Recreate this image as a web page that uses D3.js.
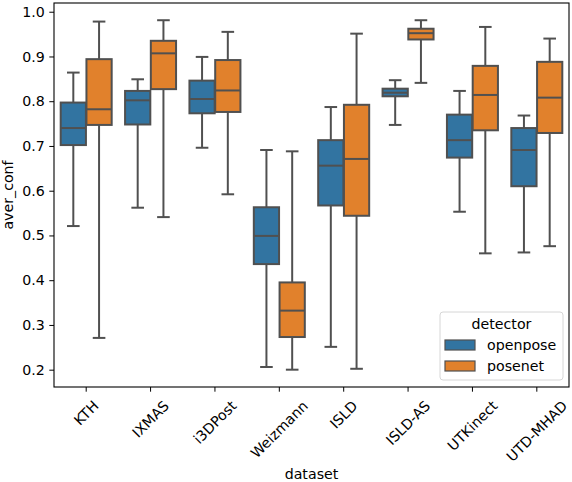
<!DOCTYPE html>
<html>
<head>
<meta charset="utf-8">
<script src="https://cdn.jsdelivr.net/npm/d3@7"></script>
<style>
  body { margin: 0; background: #fff; }
  svg text { font-family: "DejaVu Sans", sans-serif; fill: #000; }
  .axis path, .axis line { stroke: #000; }
</style>
</head>
<body>
<div id="chart"></div>
<script>
var datasets = ["KTH", "IXMAS", "i3DPost", "Weizmann", "ISLD", "ISLD-AS", "UTKinect", "UTD-MHAD"];
var detectors = ["openpose", "posenet"];
var colors = ["#3274a1", "#e1812c"];

// [whisker low, q1, median, q3, whisker high] per dataset
var openpose = [
  [0.521, 0.702, 0.740, 0.797, 0.864],
  [0.562, 0.748, 0.802, 0.823, 0.849],
  [0.696, 0.773, 0.805, 0.846, 0.899],
  [0.206, 0.436, 0.499, 0.563, 0.691],
  [0.251, 0.567, 0.656, 0.713, 0.787],
  [0.747, 0.811, 0.819, 0.828, 0.847],
  [0.553, 0.674, 0.713, 0.770, 0.823],
  [0.462, 0.610, 0.691, 0.740, 0.768]
];
var posenet = [
  [0.271, 0.747, 0.782, 0.894, 0.978],
  [0.541, 0.827, 0.907, 0.935, 0.981],
  [0.592, 0.776, 0.824, 0.892, 0.955],
  [0.200, 0.273, 0.332, 0.395, 0.688],
  [0.202, 0.544, 0.671, 0.792, 0.951],
  [0.841, 0.938, 0.952, 0.962, 0.981],
  [0.460, 0.735, 0.814, 0.879, 0.966],
  [0.476, 0.729, 0.808, 0.888, 0.940]
];
var yTicks = [0.2, 0.3, 0.4, 0.5, 0.6, 0.7, 0.8, 0.9, 1.0];

function init() {
  var w = 572, h = 482;
  var padLeft = 54, padRight = 569, padTop = 3, padBottom = 387;
  var fontSize = 14.2;
  var edge = "#505050";

  var svg = d3.select("#chart").append("svg")
    .attr("width", w)
    .attr("height", h);

  var xScale = d3.scaleBand()
    .domain(datasets)
    .range([padLeft, padRight])
    .padding(0);
  var bw = xScale.bandwidth();

  var hueScale = d3.scaleBand()
    .domain(detectors)
    .range([-0.4 * bw, 0.4 * bw]);
  var boxW = hueScale.bandwidth() * 0.98;

  var yScale = d3.scaleLinear()
    .domain([0.1613, 1.0195])
    .range([padBottom, padTop]);

  var series = [openpose, posenet];

  series.forEach(function(data, si) {
    var g = svg.append("g").attr("class", "series-" + detectors[si]);
    var cx = function(d, i) { return xScale(datasets[i]) + bw / 2 + hueScale(detectors[si]) + hueScale.bandwidth() / 2; };

    var boxes = g.selectAll("g.box")
      .data(data)
      .enter()
      .append("g")
      .attr("class", "box");

    // whiskers
    boxes.append("line")
      .attr("x1", cx).attr("x2", cx)
      .attr("y1", function(d) { return yScale(d[0]); })
      .attr("y2", function(d) { return yScale(d[1]); })
      .attr("stroke", edge).attr("stroke-width", 2);
    boxes.append("line")
      .attr("x1", cx).attr("x2", cx)
      .attr("y1", function(d) { return yScale(d[3]); })
      .attr("y2", function(d) { return yScale(d[4]); })
      .attr("stroke", edge).attr("stroke-width", 2);

    // caps
    [0, 4].forEach(function(k) {
      boxes.append("line")
        .attr("x1", function(d, i) { return cx(d, i) - boxW / 4; })
        .attr("x2", function(d, i) { return cx(d, i) + boxW / 4; })
        .attr("y1", function(d) { return yScale(d[k]); })
        .attr("y2", function(d) { return yScale(d[k]); })
        .attr("stroke", edge).attr("stroke-width", 2);
    });

    // box
    boxes.append("rect")
      .attr("x", function(d, i) { return cx(d, i) - boxW / 2; })
      .attr("y", function(d) { return yScale(d[3]); })
      .attr("width", boxW)
      .attr("height", function(d) { return yScale(d[1]) - yScale(d[3]); })
      .attr("fill", colors[si])
      .attr("stroke", edge)
      .attr("stroke-width", 2);

    // median
    boxes.append("line")
      .attr("x1", function(d, i) { return cx(d, i) - boxW / 2; })
      .attr("x2", function(d, i) { return cx(d, i) + boxW / 2; })
      .attr("y1", function(d) { return yScale(d[2]); })
      .attr("y2", function(d) { return yScale(d[2]); })
      .attr("stroke", edge).attr("stroke-width", 2);
  });

  // axes
  var xAxis = d3.axisBottom(xScale).tickSize(4.7).tickFormat("");
  var gx = svg.append("g")
    .attr("class", "axis")
    .attr("transform", "translate(0," + padBottom + ")")
    .call(xAxis);
  gx.select(".domain").remove();

  var yAxis = d3.axisLeft(yScale)
    .tickValues(yTicks)
    .tickSize(4.7)
    .tickPadding(4.5)
    .tickFormat(d3.format(".1f"));
  var gy = svg.append("g")
    .attr("class", "axis")
    .attr("transform", "translate(" + padLeft + ",0)")
    .call(yAxis);
  gy.select(".domain").remove();
  gy.selectAll("text")
    .style("font-size", fontSize + "px")
    .style("font-family", "DejaVu Sans, sans-serif");

  // frame
  svg.append("rect")
    .attr("x", padLeft).attr("y", padTop)
    .attr("width", padRight - padLeft).attr("height", padBottom - padTop)
    .attr("fill", "none").attr("stroke", "#000").attr("stroke-width", 1.1);

  // rotated x tick labels, bbox centred under the tick
  datasets.forEach(function(name) {
    var t = svg.append("text")
      .style("font-size", fontSize + "px")
      .attr("text-anchor", "middle")
      .attr("dominant-baseline", "central")
      .text(name);
    var len = t.node().getComputedTextLength();
    var half = (len + fontSize * 1.05) * Math.SQRT1_2 / 2;
    var x = xScale(name) + bw / 2;
    var y = padBottom + 11 + half;
    t.attr("transform", "translate(" + x + "," + y + ") rotate(-45)");
  });

  // axis labels
  svg.append("text")
    .attr("x", (padLeft + padRight) / 2)
    .attr("y", 479)
    .attr("text-anchor", "middle")
    .style("font-size", fontSize + "px")
    .text("dataset");

  svg.append("text")
    .attr("transform", "translate(13," + ((padTop + padBottom) / 2) + ") rotate(-90)")
    .attr("text-anchor", "middle")
    .style("font-size", fontSize + "px")
    .text("aver_conf");

  // legend
  var legend = svg.append("g").attr("transform", "translate(440,312)");
  legend.append("rect")
    .attr("width", 123).attr("height", 68)
    .attr("rx", 3)
    .attr("fill", "#fff").attr("fill-opacity", 0.8)
    .attr("stroke", "#d6d6d6");
  legend.append("text")
    .attr("x", 61.5).attr("y", 17)
    .attr("text-anchor", "middle")
    .style("font-size", fontSize + "px")
    .text("detector");
  detectors.forEach(function(name, i) {
    legend.append("rect")
      .attr("x", 5).attr("y", 28 + i * 21)
      .attr("width", 30).attr("height", 10)
      .attr("fill", colors[i])
      .attr("stroke", edge).attr("stroke-width", 1.2);
    legend.append("text")
      .attr("x", 47).attr("y", 38 + i * 21)
      .style("font-size", fontSize + "px")
      .text(name);
  });
}

window.onload = init;
</script>
</body>
</html>
